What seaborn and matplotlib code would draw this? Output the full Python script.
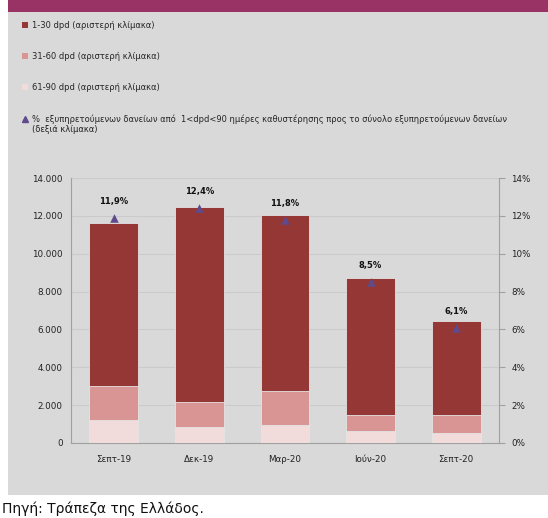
import matplotlib
matplotlib.use("Agg")
import matplotlib.pyplot as plt
from matplotlib.patches import Rectangle, Patch
from matplotlib.lines import Line2D
from matplotlib.ticker import FuncFormatter, MultipleLocator
import seaborn as sns
import pandas as pd

# Data (left axis: amounts, right axis: percentage)
quarters = ["Σεπτ-19", "Δεκ-19", "Μαρ-20", "Ιούν-20", "Σεπτ-20"]
dpd_1_30 = [8610, 10300, 9300, 7270, 4970]
dpd_31_60 = [1810, 1355, 1800, 830, 910]
dpd_61_90 = [1215, 830, 950, 635, 550]
share_pct = [11.9, 12.4, 11.8, 8.5, 6.1]

series_labels = [
    "1-30 dpd (αριστερή κλίμακα)",
    "31-60 dpd (αριστερή κλίμακα)",
    "61-90 dpd (αριστερή κλίμακα)",
    "%  εξυπηρετούμενων δανείων από  1<dpd<90 ημέρες καθυστέρησης προς το σύνολο εξυπηρετούμενων δανείων",
]
pct_label_cont = "(δεξιά κλίμακα)"

c_dark = "#953735"
c_mid = "#D99594"
c_light = "#F2DCDB"
c_tri = "#5F4A8B"
bg = "#D9D9D9"
grid_c = "#CACACA"
spine_c = "#A0A0A0"

sns.set_theme(style="white")
plt.rcParams["font.family"] = ["DejaVu Sans"]

df = pd.DataFrame({
    "q": quarters,
    "a": dpd_1_30,
    "b": dpd_31_60,
    "c": dpd_61_90,
    "pct": share_pct,
})
df["top"] = df["a"] + df["b"] + df["c"]
df["mid"] = df["b"] + df["c"]

W, H = 548, 518
fig = plt.figure(figsize=(W / 100, H / 100), dpi=100)
fig.patch.set_facecolor("white")

# Background panel and header band
fig.patches.append(Rectangle((8 / W, 1 - 495 / H), 1 - 8 / W, (495 - 12) / H,
                             transform=fig.transFigure, facecolor=bg, edgecolor="none", zorder=-5))
fig.patches.append(Rectangle((8 / W, 1 - 12 / H), 1 - 8 / W, 12 / H,
                             transform=fig.transFigure, facecolor="#993366", edgecolor="none", zorder=-5))

ax = fig.add_axes([71 / W, 1 - 443 / H, (499 - 71) / W, (443 - 178) / H])
ax.set_facecolor("none")

bw = 0.57
edge = dict(edgecolor="#E4E4E4", linewidth=0.6)
sns.barplot(data=df, x="q", y="top", color=c_dark, saturation=1, width=bw, ax=ax, zorder=2, **edge)
sns.barplot(data=df, x="q", y="mid", color=c_mid, saturation=1, width=bw, ax=ax, zorder=3, **edge)
sns.barplot(data=df, x="q", y="c", color=c_light, saturation=1, width=bw, ax=ax, zorder=4, **edge)

ax.set_ylim(0, 14000)
ax.set_xlim(-0.5, len(quarters) - 0.5)
ax.yaxis.set_major_locator(MultipleLocator(2000))
ax.yaxis.set_major_formatter(FuncFormatter(lambda v, p: f"{int(v):,}".replace(",", ".")))
ax.grid(axis="y", color=grid_c, linewidth=0.8, zorder=0)
ax.set_axisbelow(True)
ax.set_xlabel("")
ax.set_ylabel("")
for s in ["top", "right"]:
    ax.spines[s].set_visible(False)
for s in ["left", "bottom"]:
    ax.spines[s].set_color(spine_c)
    ax.spines[s].set_linewidth(0.8)
ax.tick_params(axis="both", length=0, labelsize=6.3, colors="#222222", pad=6)
ax.tick_params(axis="x", pad=9)

ax2 = ax.twinx()
ax2.set_facecolor("none")
sns.scatterplot(data=df, x="q", y="pct", marker="^", s=38, color=c_tri,
                edgecolor=c_tri, linewidth=0, ax=ax2, zorder=6)
ax2.set_ylim(0, 14)
ax2.set_xlim(-0.5, len(quarters) - 0.5)
ax2.yaxis.set_major_locator(MultipleLocator(2))
ax2.yaxis.set_major_formatter(FuncFormatter(lambda v, p: f"{int(v)}%"))
ax2.set_ylabel("")
ax2.set_xlabel("")
for s in ["top", "left", "bottom"]:
    ax2.spines[s].set_visible(False)
ax2.spines["right"].set_color(spine_c)
ax2.spines["right"].set_linewidth(0.8)
ax2.tick_params(axis="y", length=4, width=0.8, color=spine_c, labelsize=6.3,
                labelcolor="#222222", pad=5, direction="out")
ax2.grid(False)

for i, v in enumerate(share_pct):
    ax2.annotate(f"{v:.1f}%".replace(".", ","), (i, v), xytext=(0, 8.5),
                 textcoords="offset points", ha="center", va="bottom",
                 fontsize=6, fontweight="bold", color="#111111")

# Legend
handles = [
    Patch(facecolor=c_dark, edgecolor="none"),
    Patch(facecolor=c_mid, edgecolor="none"),
    Patch(facecolor=c_light, edgecolor="none"),
    Line2D([], [], marker="^", linestyle="none", color=c_tri, markersize=4),
]
fig.legend(handles, series_labels, loc="upper left", bbox_to_anchor=(22 / W, 1 - 21 / H),
           frameon=False, fontsize=6, labelspacing=2.65, handlelength=0.7,
           handleheight=0.7, handletextpad=0.55, borderpad=0, borderaxespad=0)
fig.text(32 / W, 1 - 130 / H, pct_label_cont, fontsize=6, color="#222222",
         ha="left", va="center")

fig.text(2 / W, 1 - 509 / H, "Πηγή: Τράπεζα της Ελλάδος.", fontsize=10,
         color="#111111", ha="left", va="center")

fig.savefig("out.png", dpi=100, facecolor="white")
